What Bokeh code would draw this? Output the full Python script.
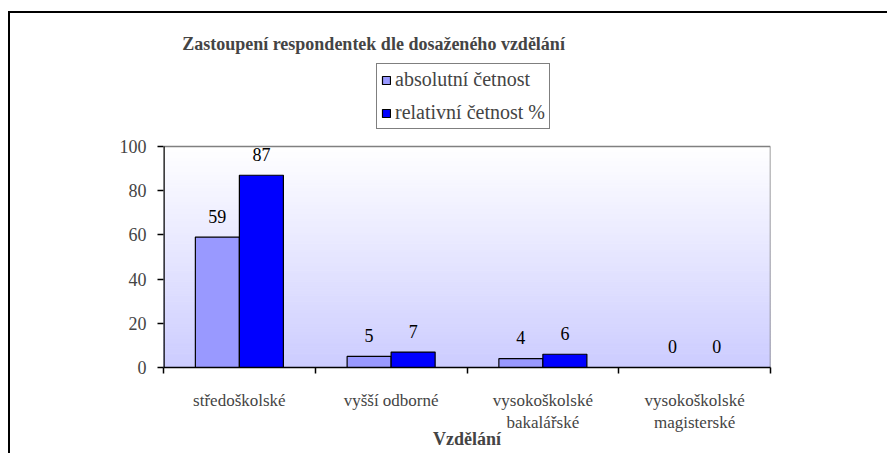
import numpy as np
from bokeh.plotting import figure
from bokeh.models import (Range1d, LinearAxis, FixedTicker, ColumnDataSource, LabelSet,
                          Label, Legend, LegendItem)
from bokeh.embed import file_html
from bokeh.resources import INLINE

# ---- data ----
categories = ["středoškolské", "vyšší odborné", "vysokoškolské\nbakalářské", "vysokoškolské\nmagisterské"]
absolutni = [59, 5, 4, 0]
relativni = [87, 7, 6, 0]
series_names = ["absolutní četnost", "relativní četnost %"]
y_ticks = [0, 20, 40, 60, 80, 100]
title_text = "Zastoupení respondentek dle dosaženého vzdělání"
x_title = "Vzdělání"

SERIF = "Liberation Serif"
C_ABS = "#9999ff"
C_REL = "#0000ff"

ncat = len(categories)
centers = np.arange(ncat) + 0.5
bounds = list(range(ncat + 1))
off = 0.145
bw = 0.29
ymax = y_ticks[-1]

# plot area: value axis 0..100 uses 221 px of a 354 px tall frame (room for title + legend above)
FRAME_W, FRAME_H, AXIS_H = 607, 354, 221
y_top = ymax * FRAME_H / AXIS_H

src = ColumnDataSource(dict(xa=centers - off, xr=centers + off, a=absolutni, r=relativni,
                            a_lbl=[str(v) for v in absolutni],
                            r_lbl=[str(v) for v in relativni]))

p = figure(x_range=Range1d(0, ncat), y_range=Range1d(0, y_top),
           frame_width=FRAME_W, frame_height=FRAME_H,
           output_backend="svg", toolbar_location=None,
           min_border_left=153, min_border_right=117, min_border_top=0, min_border_bottom=86,
           x_axis_location=None, y_axis_location=None)
p.xgrid.visible = False
p.ygrid.visible = False
p.background_fill_color = "white"
p.border_fill_color = "white"
p.outline_line_color = None
p.styles = {"border-left": "2px solid black", "border-top": "2px solid black",
            "margin-top": "11px", "margin-left": "8px"}

# gradient background of the plot area
n = 80
edges = np.linspace(0, ymax, n + 1)
t = (edges[:-1] + edges[1:]) / 2 / ymax
cols = []
for f in t:
    c = int(round(204 + (255 - 204) * f))
    cols.append("#%02x%02x%02x" % (c, c, 255))
p.quad(left=0, right=ncat, bottom=edges[:-1], top=edges[1:],
       fill_color=cols, line_color=cols, line_width=1, level="underlay")

# plot-area border: grey top/right, black value axis line
p.segment(x0=[0, ncat], y0=[ymax, 0], x1=[ncat, ncat], y1=[ymax, ymax],
          line_color="#808080", line_width=1.5)
p.segment(x0=[0], y0=[0], x1=[0], y1=[ymax], line_color="black", line_width=2.5)

# bars
r1 = p.vbar(x="xa", top="a", width=bw, source=src,
            fill_color=C_ABS, line_color="black", line_width=1.2)
r2 = p.vbar(x="xr", top="r", width=bw, source=src,
            fill_color=C_REL, line_color="black", line_width=1.2)

for xc, col, lbl in [("xa", "a", "a_lbl"), ("xr", "r", "r_lbl")]:
    ls = LabelSet(x=xc, y=col, text=lbl, source=src,
                  y_offset=21, text_align="center", text_baseline="middle",
                  text_font=SERIF, text_font_size="18px", text_color="black")
    p.add_layout(ls)

# axes
yax = LinearAxis(ticker=FixedTicker(ticks=y_ticks))
yax.major_tick_out = 6
yax.major_tick_in = 0
yax.minor_tick_line_color = None
yax.axis_line_color = None
yax.major_tick_line_color = "black"
yax.major_tick_line_width = 1.5
yax.major_label_text_font = SERIF
yax.major_label_text_font_size = "18px"
yax.major_label_standoff = 11
p.add_layout(yax, "left")

cax = LinearAxis(ticker=FixedTicker(ticks=list(centers), minor_ticks=bounds))
cax.major_label_overrides = {float(c): lab for c, lab in zip(centers, categories)}
cax.axis_line_color = "black"
cax.axis_line_width = 1.5
cax.major_tick_line_color = None
cax.major_tick_out = 0
cax.major_tick_in = 0
cax.minor_tick_line_color = "black"
cax.minor_tick_line_width = 1.5
cax.minor_tick_out = 6
cax.minor_tick_in = 0
cax.major_label_standoff = 17
cax.major_label_text_font = SERIF
cax.major_label_text_font_size = "17px"
cax.axis_label = x_title
cax.axis_label_text_font = SERIF
cax.axis_label_text_font_style = "bold"
cax.axis_label_text_font_size = "18px"
cax.axis_label_standoff = -6
p.add_layout(cax, "below")

# title (inside the enlarged frame, above the plot area)
p.add_layout(Label(x=1.384, y=146.2, text=title_text,
                   text_align="center", text_baseline="middle",
                   text_font=SERIF, text_font_style="bold", text_font_size="18px"))

legend = Legend(items=[LegendItem(label=series_names[0], renderers=[r1]),
                       LegendItem(label=series_names[1], renderers=[r2])],
                location=(213, 238), border_line_color="black", border_line_width=1,
                background_fill_color="white", background_fill_alpha=1,
                label_text_font=SERIF, label_text_font_size="20px",
                glyph_width=10, glyph_height=10, label_height=20, spacing=10,
                padding=4, margin=0, label_standoff=4)
p.add_layout(legend, "center")

open("out.html", "w").write(file_html(p, INLINE))
